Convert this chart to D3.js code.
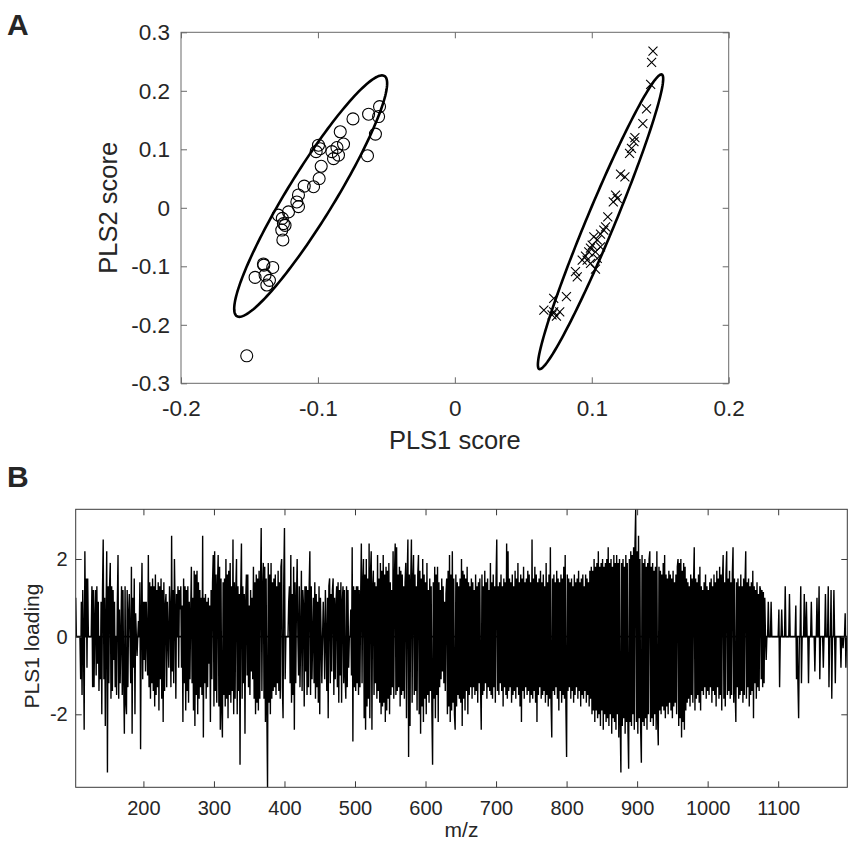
<!DOCTYPE html>
<html>
<head>
<meta charset="utf-8">
<script src="https://cdn.jsdelivr.net/npm/d3@7"></script>
<style>
  body { margin: 0; background: #fff; }
  text { font-family: "Liberation Sans", Arial, sans-serif; fill: #262626; }
</style>
</head>
<body>
<svg id="fig" width="854" height="846"></svg>
<script>
// ---- panel A : PLS scores ----
const circleX = [-0.055, -0.0557, -0.063, -0.0744, -0.058, -0.0638, -0.0837, -0.0813, -0.0861, -0.0898,
  -0.085, -0.0886, -0.0996, -0.0984, -0.1013, -0.0976, -0.0991, -0.1032, -0.110, -0.1142,
  -0.1154, -0.1142, -0.1215, -0.1289, -0.1252, -0.124, -0.1264, -0.1256, -0.1398, -0.133,
  -0.1459, -0.1386, -0.1354, -0.1373, -0.152, -0.126, -0.1395];
const circleY = [0.173, 0.156, 0.160, 0.152, 0.126, 0.089, 0.130, 0.109, 0.103, 0.096,
  0.090, 0.084, 0.107, 0.101, 0.096, 0.071, 0.050, 0.036, 0.037, 0.022,
  0.010, 0.002, -0.007, -0.0125, -0.027, -0.030, -0.038, -0.055, -0.096, -0.102,
  -0.119, -0.115, -0.124, -0.132, -0.253, -0.018, -0.098];

const crossX = [0.1447, 0.1437, 0.143, 0.140, 0.1373, 0.1315, 0.1308, 0.129, 0.1276, 0.121,
  0.1242, 0.1174, 0.1186, 0.1157, 0.1117, 0.1101, 0.1064, 0.104, 0.1015, 0.1003,
  0.1064, 0.1027, 0.0978, 0.0954, 0.093, 0.0966, 0.0991, 0.1027, 0.0894, 0.0881,
  0.0815, 0.0722, 0.065, 0.0722, 0.0766, 0.0742, 0.071, 0.104, 0.1088, 0.099];
const crossY = [0.268, 0.2485, 0.211, 0.169, 0.144, 0.120, 0.113, 0.1015, 0.093, 0.0576,
  0.053, 0.0217, 0.016, 0.0103, -0.0154, -0.0325, -0.045, -0.055, -0.0496, -0.0638,
  -0.0667, -0.0752, -0.0752, -0.0826, -0.0894, -0.0894, -0.095, -0.105, -0.118, -0.109,
  -0.152, -0.155, -0.175, -0.178, -0.178, -0.185, -0.183, -0.0865, -0.038, -0.069];

// confidence ellipses: centre, major semi-axis vector, minor semi-axis vector (data units)
const ellipseCentre = [[-0.1053, 0.020], [0.1064, -0.0239]];
const ellipseMajor = [[0.0539, 0.2053], [0.04477, 0.2517]];
const ellipseMinor = [[0.01463, -0.0210], [0.00945, -0.00923]];

const scoreXTicks = [-0.2, -0.1, 0, 0.1, 0.2];
const scoreYTicks = [-0.3, -0.2, -0.1, 0, 0.1, 0.2, 0.3];

// ---- panel B : PLS1 loading vs m/z (one value per integer m/z from mzStart) ----
const mzStart = 104;
const loadings = [
  1.0, 0, 0, 0, 0, 0, 0, -1.1, 0.9, -1.5,
  1.2, 0, -2.4, 2.2, 0, 1.5, -0.8, 1.5, 0, 0,
  0, 0, 0, 1.3, -1.3, 1.2, -1.3, 0.4, 1.2, -1.0,
  1.3, -0.7, 0.9, -1.4, 0, -1.1, 0.9, -2.0, 1.2, 2.5,
  -1.1, 1.0, -2.3, 0.5, 2.2, -3.5, 1.3, -1.2, 1.3, 1.9,
  -1.6, 1.3, -1.4, 1.2, -0.6, 0.9, -1.3, 0, -1.5, 0.8,
  2.1, -1.6, 0.7, -1.2, 0, 1.3, -1.5, 1.2, -1.1, -2.5,
  1.3, -1.7, -2.0, 1.2, -1.3, 0.6, 1.1, 0, -1.2, 1.8,
  -2.5, 1.0, -0.8, 1.5, -2.0, 0.6, 0, -0.5, 0, 0.4,
  0, 1.4, -2.9, 0.6, 1.9, -1.1, 0.9, -0.6, 0.9, -0.9,
  0.9, 0, -1.0, 2.1, -1.3, 1.4, -1.6, 1.3, -1.2, 1.5,
  -1.4, 1.3, -1.8, 1.6, -1.5, 1.2, -1.3, 1.4, -1.9, 1.3,
  -1.1, 1.5, -1.6, 1.2, -2.2, 1.4, -1.4, 0.8, 1.1, -1.3,
  0.9, 0, -0.8, 1.3, 0.6, -1.3, 2.6, -0.9, 1.2, -1.2,
  2.0, 0.7, -1.6, 1.1, 0, 1.3, -0.8, 1.2, 0.7, 1.3,
  -0.8, 0.8, -2.2, 1.5, -1.2, 1.3, -1.9, 1.2, -1.4, 1.3,
  -1.7, 0.9, -1.1, 0.6, 1.8, -1.2, 1.0, -1.9, 1.7, -2.3,
  1.6, -1.5, 1.7, -2.0, 1.4, -1.6, 1.2, -1.3, 1.0, -1.5,
  2.6, -2.6, 1.0, -1.2, 1.1, -1.6, 0.9, -1.3, 1.0, -0.7,
  0.8, -2.2, 1.2, -1.1, 1.4, 2.1, -1.8, 2.2, -1.4, 1.6,
  -1.7, 1.3, 2.1, -1.8, 1.8, -2.4, 1.5, -1.9, -2.6, 1.4,
  -1.5, 1.5, -1.8, 2.0, -1.6, 1.6, -2.1, 1.7, -1.5, 1.9,
  -1.7, 1.3, -1.4, 2.5, -2.0, 1.4, -1.6, 1.2, 2.0, -2.0,
  1.3, -1.4, 1.1, -3.3, 1.2, 2.4, -1.6, 1.3, -1.2, 1.1,
  -2.5, 0.9, 1.6, -1.0, 1.6, -1.3, 0.8, -1.5, 1.2, -0.9,
  1.0, -1.1, 1.8, -1.6, 1.4, -2.0, 1.6, -1.7, 1.5, -1.9,
  1.7, -1.6, 1.3, 2.8, -1.4, 1.2, 1.9, -1.6, 1.8, -2.2,
  1.5, -1.9, -3.88, 1.9, -1.7, 1.6, -2.0, 1.9, -1.6, 1.4,
  -1.4, 1.5, -1.3, 1.6, -1.5, 1.3, -1.2, 1.7, -1.4, 1.4,
  -1.6, 1.8, 2.0, -1.3, -2.1, 1.5, 2.8, -1.1, 0, 0,
  0, 0, 0.9, 1.3, -1.2, 2.1, -1.7, 1.1, -1.5, 1.8,
  -2.4, 1.4, -1.2, 0.9, 2.0, 0, -1.0, 1.3, -1.3, 0,
  1.7, -1.4, 1.2, 0.8, -1.8, 1.3, -0.9, 1.3, -1.5, 1.2,
  -1.3, 1.3, 2.2, -1.5, 1.3, -1.1, 0, 1.0, -1.2, 1.4,
  -1.6, 1.1, -1.3, 0.9, -1.7, 1.3, -2.0, 1.0, 0, -1.2,
  0, 0.9, 0, -1.1, 1.2, 0, -1.4, 1.0, -2.1, 1.3,
  1.5, -1.2, 1.1, -0.9, 1.2, 1.5, -1.5, 1.0, -1.1, 0.8,
  1.3, -1.3, 1.4, -1.7, 1.2, -1.0, 1.4, -1.7, 0.9, 1.3,
  -1.2, 1.2, -1.0, -1.6, 1.3, -1.3, 1.2, -0.8, 0, 0,
  0.7, -1.0, 2.3, -2.7, 1.3, -1.3, 1.2, -1.4, 1.3, -1.2,
  1.3, -1.5, 1.2, -1.3, 1.0, 2.4, -1.2, 1.4, 2.0, -2.1,
  1.6, -2.4, 2.0, -1.8, 1.5, -1.6, 2.4, -2.1, 1.7, 2.2,
  -2.4, 1.3, 1.7, -1.5, 1.4, -1.2, 1.3, -1.6, 2.1, -1.4,
  1.5, -1.7, 1.9, -2.0, 1.7, -1.8, 2.1, -1.7, 1.6, -2.2,
  1.8, -1.9, 1.7, -1.6, 1.9, -2.0, 1.4, -1.5, 1.2, -1.3,
  2.2, -1.6, 1.6, 2.4, -1.5, 2.3, -1.4, 1.6, -1.3, 1.8,
  -1.8, 1.7, -1.5, 1.6, -1.4, 1.3, -1.6, 1.4, 1.9, -2.1,
  1.5, 2.5, -3.1, 1.6, -2.3, 1.4, 2.5, -1.7, 1.5, 2.1,
  -1.5, 1.6, -1.4, 1.3, -1.9, 1.6, 2.1, -2.0, 1.7, -2.5,
  1.5, -1.8, 2.0, -2.2, 1.6, -1.6, 1.4, -2.0, 1.9, -1.5,
  1.2, -1.7, 1.5, -1.4, 1.3, -1.9, -3.3, 1.4, -1.6, 1.8,
  -2.1, 1.6, -1.5, 1.8, -2.2, 1.4, -1.3, 1.2, -1.1, 1.5,
  -0.9, 1.3, -1.2, 0.9, -1.4, 1.1, 1.5, -2.0, 1.7, -1.8,
  2.1, -2.2, 1.6, -1.9, 2.2, -1.7, 1.5, -2.0, -2.4, 1.6,
  -1.8, 1.4, -1.5, 1.3, -1.6, 1.5, -1.7, 2.0, -2.3, 1.7,
  -1.6, 1.6, -1.9, 1.5, -1.4, 1.8, -2.0, 1.4, -1.5, 1.3,
  -1.3, 1.5, -1.6, 1.4, -1.3, 1.2, -1.5, 1.6, -1.4, 1.3,
  -1.7, 1.4, -1.2, 1.5, -1.3, -2.4, 1.6, -1.5, 1.3, -1.4,
  1.7, -1.2, 1.4, -1.6, 1.5, -1.3, 1.2, -1.4, 1.9, -1.5,
  1.4, -1.6, 1.6, -1.3, 1.3, -1.7, 1.5, 2.5, -1.4, 1.3,
  -1.5, 1.4, -1.2, 1.6, -1.4, 1.3, -1.8, 1.5, -1.3, 1.4,
  -1.5, 2.4, -1.6, 2.2, -1.4, 1.5, -1.3, 1.4, -1.7, 1.6,
  -1.5, 1.3, -1.4, 1.7, -1.6, 1.5, -1.3, 1.9, -1.5, 1.4,
  -1.8, 1.6, -2.2, 1.5, -1.4, 1.8, -1.6, 1.4, -1.3, 1.5,
  -1.5, 1.7, -1.4, 1.6, -1.7, 1.4, -1.5, 2.5, -1.6, 1.5,
  -1.4, 1.8, -1.7, 1.6, -2.2, 1.4, -1.5, 1.5, -1.3, 1.7,
  -1.6, 1.4, -1.5, 1.6, -1.4, 1.3, -1.7, 1.9, -1.5, 1.4,
  -1.8, 1.6, -1.6, 2.3, -1.7, -2.6, 1.5, -1.4, 1.6, -1.5,
  1.4, -1.3, 1.7, -1.6, 1.5, -1.9, 1.4, -1.4, 1.6, -1.7,
  1.5, -1.5, 1.8, -1.6, 2.1, -1.8, -3.1, 1.6, -1.4, 1.5,
  -1.3, 1.4, -1.6, 1.5, -1.4, 1.3, -1.7, 1.6, -1.5, 1.4,
  -1.3, 1.5, -1.6, 1.7, -1.4, 1.4, -1.8, 1.5, -1.5, 1.6,
  -1.6, 1.3, -1.4, 1.6, -1.7, 1.5, -1.5, 1.4, -1.8, 1.7,
  -1.6, 1.8, -2.0, 1.7, -1.9, 2.0, -2.2, 1.8, -1.9, 1.9,
  -2.1, 2.2, -2.0, 1.8, -2.3, 1.9, -1.9, 2.0, -2.4, 1.8,
  -2.0, 1.9, -2.2, 2.0, -2.1, 2.3, -2.3, 1.9, -2.0, 2.0,
  -2.5, 1.8, -2.1, 2.1, -2.2, 1.9, -2.4, 2.1, -2.0, 1.9,
  -2.6, 2.0, -2.2, -3.5, 1.9, -2.3, 2.0, -2.1, 1.8, -2.5,
  2.1, -2.2, 1.9, -2.4, -3.4, 2.0, -2.2, 2.2, -2.3, 2.1,
  -2.0, 2.3, -2.4, 2.4, 3.28, -2.2, 2.2, -2.5, 2.6, -2.1,
  2.0, -2.4, -3.25, 2.1, -2.2, 1.9, -2.3, 2.0, -2.1, 1.8,
  -2.4, 1.9, -2.0, 2.0, 2.2, -2.2, 1.8, -2.1, 1.9, -2.3,
  1.7, -2.0, 1.8, -2.4, 2.2, -2.1, -2.8, 1.8, -1.9, 1.7,
  -2.0, 1.6, -1.8, 1.9, -1.9, 2.1, -2.1, 1.6, -1.8, 1.5,
  -2.0, 1.7, -1.7, 1.6, -1.9, 1.5, -2.1, 1.7, -1.8, 1.4,
  -1.7, 1.6, -2.0, 1.8, 2.0, -2.3, 1.9, -2.1, 2.0, -2.6,
  1.7, -2.2, 1.9, -2.4, 1.8, -1.9, 1.5, -1.7, 1.4, -1.6,
  1.3, -1.8, 1.6, -1.5, 1.5, -1.7, 1.4, 2.3, -1.9, 1.5,
  -1.6, 1.4, -1.5, 1.6, -1.7, 1.8, -1.9, 1.3, -1.4, 1.2,
  -1.5, 1.4, -1.3, 1.6, -1.6, 1.3, -1.4, 1.2, -1.5, 1.4,
  -1.3, 1.5, -1.7, 1.3, -1.4, 1.6, -1.5, 1.4, -1.8, 1.7,
  -1.3, 1.5, -1.6, 1.8, -1.5, 1.6, -1.9, 1.5, 2.1, -1.6,
  1.4, -1.8, 1.6, 2.2, -1.5, 1.5, -1.4, 1.7, -1.6, 1.4,
  -1.5, 1.6, 2.3, -1.7, 1.5, -1.4, -2.2, 1.4, -1.3, 1.5,
  -1.6, 1.3, -1.5, 1.6, -1.4, 1.3, -1.7, 1.5, -1.5, 1.4,
  2.2, -1.6, 1.4, -1.3, 1.5, -1.8, 1.3, -1.5, 1.4, -1.4,
  1.7, -2.1, 1.3, -1.2, 1.2, -1.6, 1.4, -1.3, 1.1, -1.4,
  1.3, 1.2, -1.1, 1.2, -1.3, 1.15, -1.2, 1.0, 0, -0.6,
  0, 0, 0.9, 0, 0, 0, 0.9, 0, 0, 0,
  0, 0, 0, 0, 0, 0, 0, 0.7, -1.3, 0,
  0, 0.7, 0, 0, 0, 0, 1.3, 0, 0, 0,
  0, 0, 1.1, 0, 0, 0, 0, 0, 0, 0,
  0, 0.8, -1.1, 0, -1.2, -2.1, 0, 0, 1.3, -1.2,
  0, 0, 0, 1.1, 0, 0, 0.9, 0, 0, -1.2,
  0, 0, 0, 0.9, 0, 0, 0, 0, -0.9, 0,
  0, 1.0, 0, 0, 1.3, -1.1, 0, 0, 0, 0,
  -0.8, 0, 0, 1.1, 0, 0, 0, 1.3, -1.3, 0,
  0, 1.2, -1.6, 0, 0, 1.2, 0, -1.2, 0, 0,
  0, 0, 0, 0, 0, -0.8, 0, 0, -0.3, 0,
  0, 0.6, -0.8, 0
];
const mzTicks = [200, 300, 400, 500, 600, 700, 800, 900, 1000, 1100];
const loadingTicks = [-2, 0, 2];

const svg = d3.select("#fig");

// ================= panel A =================
const xA = d3.scaleLinear().domain([-0.2, 0.2]).range([181, 728.7]);
const yA = d3.scaleLinear().domain([-0.3, 0.3]).range([383.3, 32.3]);
const gA = svg.append("g");

gA.append("g")
    .attr("transform", `translate(0,${yA(-0.3)})`)
    .call(d3.axisBottom(xA).tickValues(scoreXTicks).tickSize(-6).tickPadding(17).tickFormat(d => String(d)))
    .call(g => g.select(".domain").remove());
gA.append("g")
    .attr("transform", `translate(0,${yA(0.3)})`)
    .call(d3.axisTop(xA).tickValues(scoreXTicks).tickSize(-6).tickFormat(""))
    .call(g => g.select(".domain").remove());
gA.append("g")
    .attr("transform", `translate(${xA(-0.2)},0)`)
    .call(d3.axisLeft(yA).tickValues(scoreYTicks).tickSize(-6).tickPadding(11).tickFormat(d => String(d)))
    .call(g => g.select(".domain").remove());
gA.append("g")
    .attr("transform", `translate(${xA(0.2)},0)`)
    .call(d3.axisRight(yA).tickValues(scoreYTicks).tickSize(-6).tickFormat(""))
    .call(g => g.select(".domain").remove());
gA.selectAll(".tick line").attr("stroke", "#6a6a6a");
gA.selectAll(".tick text").style("font-size", "22.5px").attr("fill", "#262626");

gA.append("rect")
    .attr("x", xA(-0.2)).attr("y", yA(0.3))
    .attr("width", xA(0.2) - xA(-0.2)).attr("height", yA(-0.3) - yA(0.3))
    .attr("fill", "none").attr("stroke", "#6a6a6a").attr("stroke-width", 1);

// ellipses
const ellipseLine = d3.line().x(d => xA(d[0])).y(d => yA(d[1])).curve(d3.curveLinearClosed);
ellipseCentre.forEach((c, k) => {
    const u = ellipseMajor[k], v = ellipseMinor[k];
    const pts = d3.range(0, 2 * Math.PI, Math.PI / 90).map(t =>
        [c[0] + Math.cos(t) * u[0] + Math.sin(t) * v[0], c[1] + Math.cos(t) * u[1] + Math.sin(t) * v[1]]);
    gA.append("path").attr("d", ellipseLine(pts))
        .attr("fill", "none").attr("stroke", "#000").attr("stroke-width", 2.6);
});

gA.selectAll("circle.pt")
    .data(circleX.map((x, i) => [x, circleY[i]]))
    .enter().append("circle")
    .attr("class", "pt")
    .attr("cx", d => xA(d[0])).attr("cy", d => yA(d[1])).attr("r", 6)
    .attr("fill", "none").attr("stroke", "#000").attr("stroke-width", 1.1);

gA.selectAll("path.cross")
    .data(crossX.map((x, i) => [x, crossY[i]]))
    .enter().append("path")
    .attr("class", "cross")
    .attr("transform", d => `translate(${xA(d[0])},${yA(d[1])})`)
    .attr("d", "M-4.5,-4.5L4.5,4.5M-4.5,4.5L4.5,-4.5")
    .attr("stroke", "#000").attr("stroke-width", 1.1);

gA.append("text")
    .attr("x", (xA(-0.2) + xA(0.2)) / 2).attr("y", 449)
    .attr("text-anchor", "middle").style("font-size", "25.5px")
    .text("PLS1 score");
gA.append("text")
    .attr("transform", `translate(117,${(yA(-0.3) + yA(0.3)) / 2}) rotate(-90)`)
    .attr("text-anchor", "middle").style("font-size", "25.5px")
    .text("PLS2 score");
svg.append("text").attr("x", 7).attr("y", 35)
    .style("font-size", "30px").style("font-weight", "bold").attr("fill", "#000")
    .text("A");

// ================= panel B =================
const xB = d3.scaleLinear().domain([104, 1198]).range([75.7, 847.3]);
const yB = d3.scaleLinear().domain(d3.extent(loadings)).range([787.3, 509.3]);
const gB = svg.append("g");

svg.append("clipPath").attr("id", "clipB").append("rect")
    .attr("x", xB(104)).attr("y", yB.range()[1])
    .attr("width", xB(1198) - xB(104)).attr("height", yB.range()[0] - yB.range()[1]);

const plotB = gB.append("g").attr("clip-path", "url(#clipB)");
plotB.append("line")
    .attr("x1", xB(104)).attr("x2", xB(1198))
    .attr("y1", yB(0)).attr("y2", yB(0))
    .attr("stroke", "#000").attr("stroke-width", 1.6);
// spectrum drawn as a connected line, as MATLAB plot() does
const spectrumLine = d3.line().x((v, i) => xB(mzStart + i)).y(v => yB(v));
plotB.append("path")
    .attr("d", spectrumLine(loadings))
    .attr("fill", "none").attr("stroke", "#000").attr("stroke-width", 1.4)
    .attr("stroke-linejoin", "miter").attr("stroke-miterlimit", 1);

gB.append("g")
    .attr("transform", `translate(0,${yB.range()[0]})`)
    .call(d3.axisBottom(xB).tickValues(mzTicks).tickSize(-6).tickPadding(13.5).tickFormat(d => String(d)))
    .call(g => g.select(".domain").remove());
gB.append("g")
    .attr("transform", `translate(0,${yB.range()[1]})`)
    .call(d3.axisTop(xB).tickValues(mzTicks).tickSize(-6).tickFormat(""))
    .call(g => g.select(".domain").remove());
gB.append("g")
    .attr("transform", `translate(${xB(104)},0)`)
    .call(d3.axisLeft(yB).tickValues(loadingTicks).tickSize(-6).tickPadding(8).tickFormat(d => String(d)))
    .call(g => g.select(".domain").remove());
gB.append("g")
    .attr("transform", `translate(${xB(1198)},0)`)
    .call(d3.axisRight(yB).tickValues(loadingTicks).tickSize(-6).tickFormat(""))
    .call(g => g.select(".domain").remove());
gB.selectAll(".tick line").attr("stroke", "#3a3a3a");
gB.selectAll(".tick text").style("font-size", "20px").attr("fill", "#262626");

gB.append("rect")
    .attr("x", xB(104)).attr("y", yB.range()[1])
    .attr("width", xB(1198) - xB(104)).attr("height", yB.range()[0] - yB.range()[1])
    .attr("fill", "none").attr("stroke", "#3a3a3a").attr("stroke-width", 1);

gB.append("text")
    .attr("x", (xB(104) + xB(1198)) / 2).attr("y", 837)
    .attr("text-anchor", "middle").style("font-size", "21px")
    .text("m/z");
gB.append("text")
    .attr("transform", `translate(38.5,646) rotate(-90)`)
    .attr("text-anchor", "middle").style("font-size", "21px")
    .text("PLS1 loading");
svg.append("text").attr("x", 7).attr("y", 487)
    .style("font-size", "30px").style("font-weight", "bold").attr("fill", "#000")
    .text("B");
</script>
</body>
</html>
